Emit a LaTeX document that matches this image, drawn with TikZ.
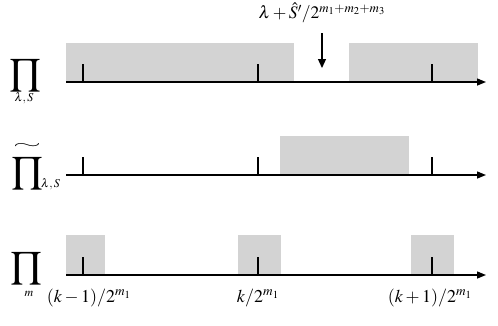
\documentclass[tikz,border=0pt]{standalone}
\usepackage{mathptmx}
\usetikzlibrary{arrows.meta}
\definecolor{greyfill}{RGB}{211,211,211}
\begin{document}
\begin{tikzpicture}[x=1pt,y=-1pt,
  axis/.style={line width=1.4pt,-{Triangle[length=9pt,width=7pt]}},
  tickmark/.style={line width=1.4pt},
  lbl/.style={inner sep=0pt,font=\fontsize{18}{20}\selectfont},
  toplbl/.style={inner sep=0pt,font=\fontsize{17.5}{19}\selectfont},
  bigop/.style={inner sep=0pt,font=\fontsize{26}{28}\selectfont},
  subl/.style={inner sep=0pt,font=\fontsize{12}{13}\selectfont}]
\useasboundingbox (0,0) rectangle (498,325);
% shaded intervals
\fill[greyfill] (66,43) rectangle (294,82);
\fill[greyfill] (349,43) rectangle (478,82);
\fill[greyfill] (280,136) rectangle (409,175);
\fill[greyfill] (66,235) rectangle (105,275);
\fill[greyfill] (238,235) rectangle (281,275);
\fill[greyfill] (411,235) rectangle (454,275);
% axes
\coordinate (a1s) at (66,82);  \coordinate (a1e) at (486,82);
\coordinate (a2s) at (66,175); \coordinate (a2e) at (486,175);
\coordinate (a3s) at (66,275); \coordinate (a3e) at (486,275);
\draw[axis] (a1s) -- (a1e);
\draw[axis] (a2s) -- (a2e);
\draw[axis] (a3s) -- (a3e);
% ticks
\foreach \y/\h in {82/64,175/157,275/257}{
  \foreach \x in {83,258,432}{
    \draw[tickmark] (\x,\y) -- (\x,\h);
  }
}
% top label and arrow
\node[toplbl] (top) at (322,13) {$\lambda+\hat{S}'/2^{m_1+m_2+m_3}$};
\coordinate (ptrs) at (322,33);
\coordinate (ptr) at (322,68);
\draw[line width=1.2pt,-{Triangle[length=9pt,width=8pt]}] (ptrs) -- (ptr);
% left labels
\node[bigop] (p1) at (25,75) {$\displaystyle\prod$};
\node[subl] (s1) at (24,98) {$\lambda,S$};
\node[bigop,anchor=south] (p2) at (27,189) {\vbox{\hbox to 28pt{\hss\resizebox{28pt}{5pt}{$\sim$}\hss}\vskip 3pt\hbox to 28pt{\hss$\displaystyle\prod$\hss}}};
\node[subl,anchor=west] (s2) at (41,184) {$\lambda,S$};
\node[bigop] (p3) at (26,268) {$\displaystyle\prod$};
\node[subl] (s3) at (29,294) {$m$};
% bottom labels
\node[lbl] (l1) at (89,298) {$(k-1)/2^{m_1}$};
\node[lbl] (l2) at (258,298) {$k/2^{m_1}$};
\node[lbl] (l3) at (430,298) {$(k+1)/2^{m_1}$};
\end{tikzpicture}
\end{document}
